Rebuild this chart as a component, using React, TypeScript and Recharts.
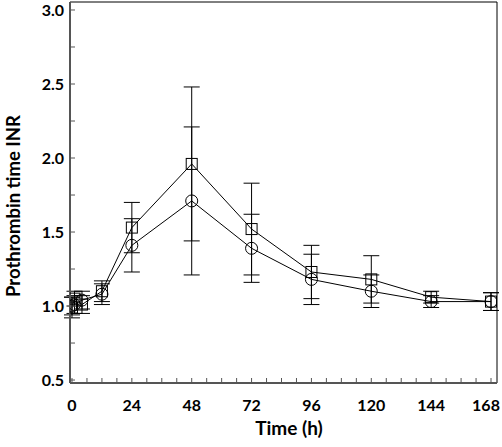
import React from "react";
import { LineChart, Line, XAxis, YAxis, ErrorBar, ReferenceLine } from "recharts";

// sampling times (h)
const times = [0, 1, 4, 12, 24, 48, 72, 96, 120, 144, 168];
// open squares
const squareMean = [0.99, 1.05, 1.01, 1.1, 1.53, 1.96, 1.52, 1.23, 1.18, 1.06, 1.03];
const squareSd = [0.07, 0.05, 0.06, 0.07, 0.17, 0.52, 0.31, 0.18, 0.16, 0.04, 0.06];
// open circles
const circleMean = [1.0, 1.01, 1.04, 1.08, 1.41, 1.71, 1.39, 1.18, 1.1, 1.03, 1.03];
const circleSd = [0.06, 0.06, 0.06, 0.07, 0.18, 0.5, 0.23, 0.17, 0.11, 0.04, 0.06];

const xTicks = [0, 6, 12, 18, 24, 30, 36, 42, 48, 54, 60, 66, 72, 78, 84, 90, 96, 102, 108, 114, 120, 126, 132, 138, 144, 150, 156, 162, 168];
const yTicks = [0.5, 0.75, 1.0, 1.25, 1.5, 1.75, 2.0, 2.25, 2.5, 2.75, 3.0];

const X_DOMAIN: [number, number] = [-0.8, 170.4];
const Y_DOMAIN: [number, number] = [0.48, 3.054];

const data = times.map((t, i) => ({
  t,
  sq: squareMean[i],
  sqErr: squareSd[i],
  ci: circleMean[i],
  ciErr: circleSd[i],
}));

const FONT = "Lato, 'Open Sans', sans-serif";
const tickStyle = { fontSize: 16, fontWeight: 700, fill: "#000", fontFamily: FONT };

const SquareDot = (p: any) => (
  <rect key={p.key} x={p.cx - 5.5} y={p.cy - 5.5} width={11} height={11} fill="none" stroke="#000" strokeWidth={1} />
);
const CircleDot = (p: any) => (
  <circle key={p.key} cx={p.cx} cy={p.cy} r={6} fill="none" stroke="#000" strokeWidth={1} />
);

// x tick label, kept inside the picture at the right edge
const XTick = (p: any) => {
  const v = p.payload.value;
  if (v % 24 !== 0) return <g />;
  return (
    <text x={Math.min(p.x, 486)} y={p.y} dy="0.71em" textAnchor="middle" {...tickStyle}>
      {v}
    </text>
  );
};

export default function App() {
  return (
    <div style={{ position: "absolute", left: 0, top: 0, width: 502, height: 447, background: "#fff" }}>
      <LineChart width={502} height={447} data={data} margin={{ top: 2, right: 5, left: 10, bottom: 30 }}>
        <XAxis
          dataKey="t"
          type="number"
          domain={X_DOMAIN}
          allowDataOverflow
          ticks={xTicks}
          interval={0}
          tickSize={-5}
          tickMargin={22}
          height={34}
          axisLine={{ stroke: "#555", strokeWidth: 2 }}
          tickLine={{ stroke: "#555" }}
          tick={XTick}
          label={{
            content: () => (
              <text x={289} y={435} textAnchor="middle" fontSize={19} fontWeight={700} fontFamily={FONT} fill="#000">
                Time (h)
              </text>
            ),
          }}
        />
        <YAxis
          type="number"
          domain={Y_DOMAIN}
          allowDataOverflow
          ticks={yTicks}
          interval={0}
          tickFormatter={(v: number) => (Math.abs(v * 2 - Math.round(v * 2)) < 1e-9 ? v.toFixed(1) : "")}
          tickSize={-5}
          tickMargin={11}
          width={60}
          axisLine={{ stroke: "#555", strokeWidth: 2 }}
          tickLine={{ stroke: "#555" }}
          tick={tickStyle}
          label={{
            content: () => (
              <text transform="translate(20,206) rotate(-90)" textAnchor="middle" fontSize={18.5} fontWeight={700} fontFamily={FONT} fill="#000">
                Prothrombin time INR
              </text>
            ),
          }}
        />
        <ReferenceLine y={Y_DOMAIN[1]} stroke="#000" strokeWidth={1} />
        <ReferenceLine x={X_DOMAIN[1]} stroke="#000" strokeWidth={1} />
        <Line dataKey="ci" stroke="#000" strokeWidth={1} dot={CircleDot} isAnimationActive={false}>
          <ErrorBar dataKey="ciErr" width={8} stroke="#000" strokeWidth={1} direction="y" isAnimationActive={false} />
        </Line>
        <Line dataKey="sq" stroke="#000" strokeWidth={1} dot={SquareDot} isAnimationActive={false}>
          <ErrorBar dataKey="sqErr" width={8} stroke="#000" strokeWidth={1} direction="y" isAnimationActive={false} />
        </Line>
      </LineChart>
    </div>
  );
}
